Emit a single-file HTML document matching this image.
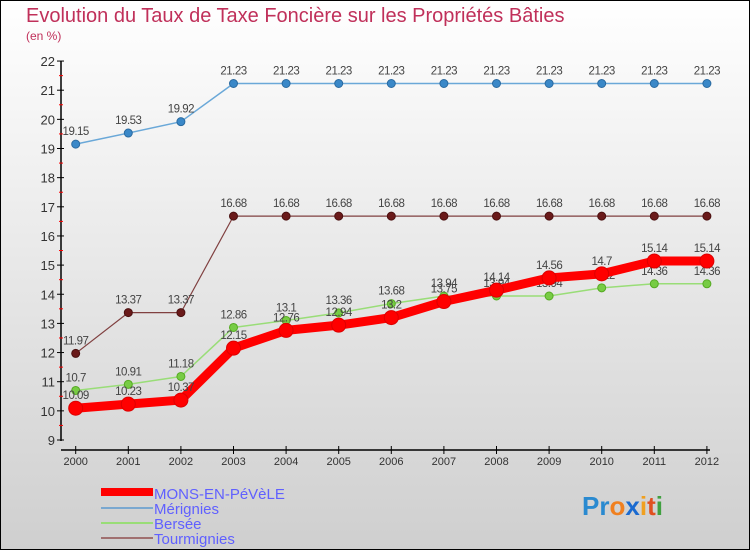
<!DOCTYPE html>
<html><head><meta charset="utf-8"><style>
body{margin:0;width:750px;height:550px;overflow:hidden}
svg{display:block;font-family:"Liberation Sans",sans-serif}
</style></head><body>
<svg id="c" width="750" height="550">
<defs><linearGradient id="bg" x1="0" y1="0" x2="0" y2="1"><stop offset="0" stop-color="#ffffff"/><stop offset="1" stop-color="#cfcfcf"/></linearGradient></defs>
<rect x="0.5" y="0.5" width="749" height="549" fill="url(#bg)" stroke="#000"/>
<text x="26" y="22" font-size="20" fill="#c0305a">Evolution du Taux de Taxe Foncière sur les Propriétés Bâties</text>
<text x="26" y="40" font-size="12" fill="#c0305a">(en %)</text>
<g id="axes"></g><g id="series"></g>
<g>
<rect x="101" y="488" width="52" height="8" fill="#f00"/>
<text x="154" y="499" font-size="15" fill="#6060ff">MONS-EN-PéVèLE</text>
<line x1="101" y1="508" x2="153" y2="508" stroke="#7aa8d0" stroke-width="2"/>
<text x="154" y="514" font-size="15" fill="#6060ff">Mérignies</text>
<line x1="101" y1="523" x2="153" y2="523" stroke="#99dd77" stroke-width="2"/>
<text x="154" y="529" font-size="15" fill="#6060ff">Bersée</text>
<line x1="101" y1="538" x2="153" y2="538" stroke="#a07070" stroke-width="2"/>
<text x="154" y="544" font-size="15" fill="#6060ff">Tourmignies</text>
</g>
<text x="582" y="515" font-size="26" font-weight="bold"><tspan fill="#2a8ad0">Pr</tspan><tspan fill="#f08020">o</tspan><tspan fill="#1a6ad0">x</tspan><tspan fill="#f0a020">i</tspan><tspan fill="#e05020">t</tspan><tspan fill="#40a040">i</tspan></text>
</svg>
<script>
const years=[2000,2001,2002,2003,2004,2005,2006,2007,2008,2009,2010,2011,2012];
const yTicks=[9,10,11,12,13,14,15,16,17,18,19,20,21,22];
const mons=[10.09,10.23,10.37,12.15,12.76,12.94,13.2,13.75,14.14,14.56,14.7,15.14,15.14];
const merignies=[19.15,19.53,19.92,21.23,21.23,21.23,21.23,21.23,21.23,21.23,21.23,21.23,21.23];
const bersee=[10.7,10.91,11.18,12.86,13.1,13.36,13.68,13.94,13.94,13.94,14.22,14.36,14.36];
const tourmignies=[11.97,13.37,13.37,16.68,16.68,16.68,16.68,16.68,16.68,16.68,16.68,16.68,16.68];
const NS="http://www.w3.org/2000/svg";
const x=i=>75.7+i*52.6;
const y=v=>440-(v-9)*29.15;
function mk(t,a,p){const e=document.createElementNS(NS,t);for(const k in a)e.setAttribute(k,a[k]);p.appendChild(e);return e;}
const ax=document.getElementById('axes');
mk('line',{x1:61,y1:61,x2:61,y2:441,stroke:'#000','stroke-width':1.5},ax);
mk('line',{x1:61,y1:450,x2:710,y2:450,stroke:'#000','stroke-width':1.5},ax);
yTicks.forEach(v=>{
 mk('line',{x1:57,y1:y(v),x2:64,y2:y(v),stroke:'#000'},ax);
 if(v<22)mk('line',{x1:59,y1:y(v+0.5),x2:63,y2:y(v+0.5),stroke:'#f00'},ax);
 const t=mk('text',{x:55,y:y(v)+5,'text-anchor':'end','font-size':13,fill:'#333'},ax);
 
 
 t.textContent=v;
});
years.forEach((yr,i)=>{
 mk('line',{x1:x(i),y1:446,x2:x(i),y2:454,stroke:'#000'},ax);
 const t=mk('text',{x:x(i),y:465,'text-anchor':'middle','font-size':11,fill:'#333'},ax);
 
 
 t.textContent=yr;
});
const sg=document.getElementById('series');
function draw(name,vals,color,lw,r,dot,sc){
 const g=mk('g',{},sg);
 
 
 mk('polyline',{points:vals.map((v,i)=>x(i)+','+y(v)).join(' '),fill:'none',stroke:color,'stroke-width':lw,'stroke-linejoin':'round'},g);
 vals.forEach((v,i)=>{
  const c=mk('circle',{cx:x(i),cy:y(v),r:r,fill:dot,stroke:sc,'stroke-width':1},g);
  
  
  const t=mk('text',{x:x(i),y:y(v)-9,'text-anchor':'middle','font-size':11.5,fill:'#444','letter-spacing':'-0.5'},g);
  
  
  t.textContent=v;
 });
}
draw('tourmignies',tourmignies,'#804040',1.2,4,'#6a1a1a','#4a1010');
draw('merignies',merignies,'#6aa8d8',1.5,4,'#3a88c8','#2a6aa0');
draw('bersee',bersee,'#99dd77',1.5,4,'#77cc44','#55aa22');
draw('mons',mons,'#f00',9,7,'#f00','#d00');
</script>
</body></html>
